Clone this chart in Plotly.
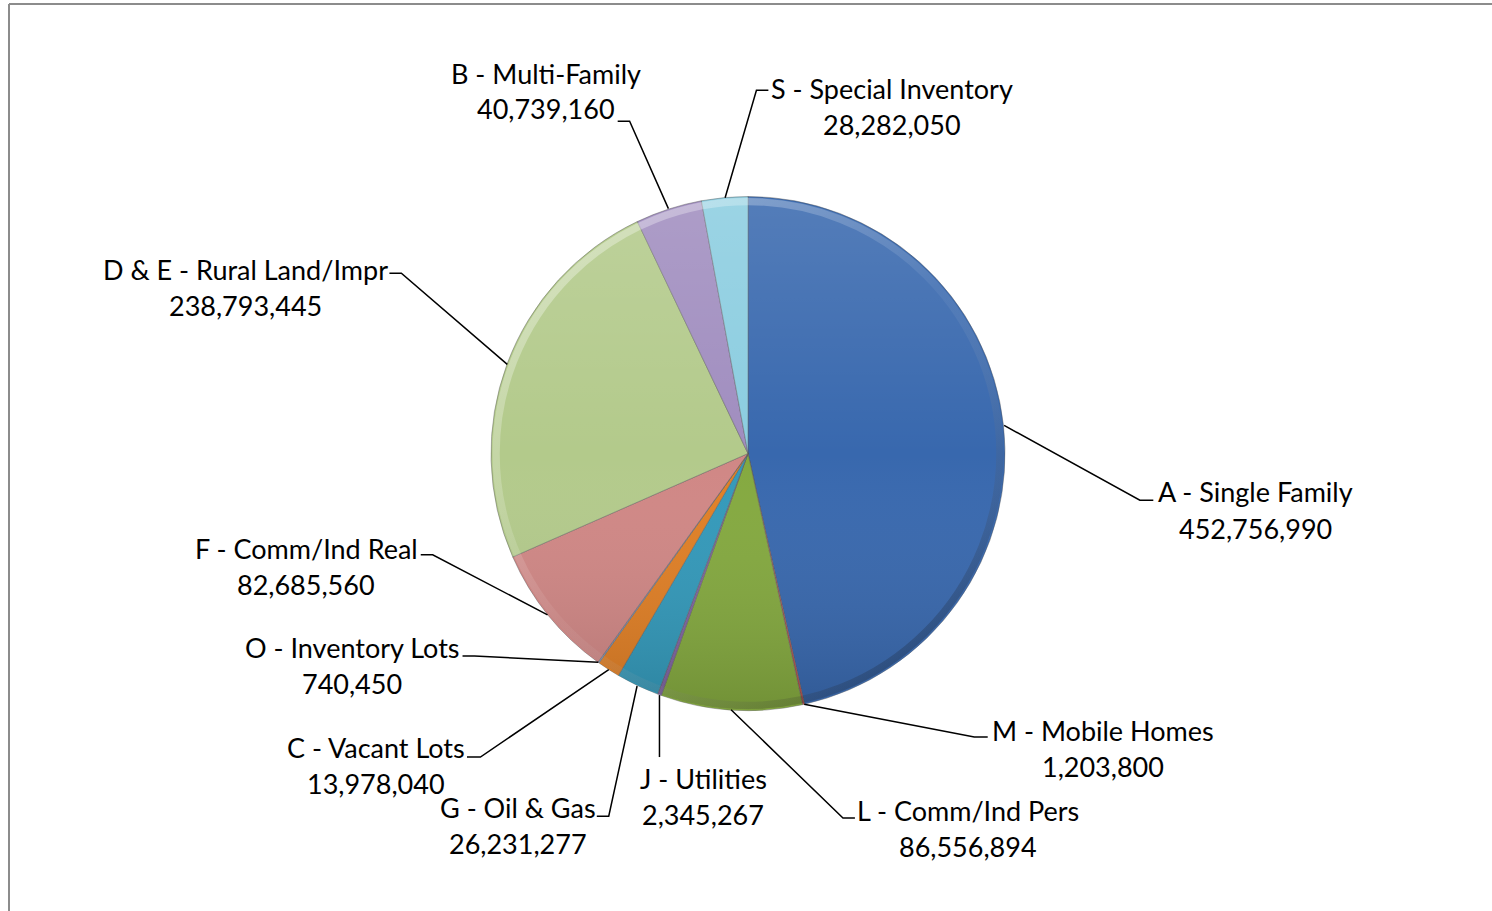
import math
import base64
import plotly.graph_objects as go

# ---------------- data ----------------
categories = [
    "A - Single Family", "M - Mobile Homes", "L - Comm/Ind Pers", "J - Utilities",
    "G - Oil & Gas", "C - Vacant Lots", "O - Inventory Lots", "F - Comm/Ind Real",
    "D & E - Rural Land/Impr", "B - Multi-Family", "S - Special Inventory",
]
values = [452756990, 1203800, 86556894, 2345267, 26231277, 13978040,
          740450, 82685560, 238793445, 40739160, 28282050]

# ---------------- style / layout ----------------
colors = ["#3868AE", "#C0504D", "#84A93F", "#8064A2", "#3399BA", "#E07F25",
          "#7F9FD4", "#D08785", "#B3CA8B", "#A08DBF", "#8BCDE0"]
W, H = 1492, 911
CX, CY, R = 748, 453.5, 257
FONT = "Lato"
FSIZE = 27
LINE_GAP = 36
# label block centre (x) and first-line middle (y), pixels
label_x = [1255, 1103, 968, 703, 518, 376, 352, 306, 245, 546, 892]
label_y = [492, 730, 810, 778, 807, 747, 647, 548, 269, 73, 88]
# leader line elbow and end points, pixels
elbows = [(1140, 500), (975, 737), (843, 818), (660, 757), (609, 816), (480, 757),
          (474, 656), (432, 555), (402, 273), (630, 121), (757, 90)]
ends = [(1153, 500), (988, 737), (855, 818), (660, 757), (597, 816), (467, 757),
        (462, 656), (420, 555), (390, 273), (618, 121), (768, 90)]


def px(x):
    return x / W


def py(y):
    return 1 - y / H


fig = go.Figure()
fig.add_trace(go.Pie(
    labels=categories,
    values=values,
    sort=False,
    direction="clockwise",
    rotation=0,
    marker=dict(colors=colors, line=dict(color="rgba(90,90,90,0.45)", width=1)),
    textinfo="none",
    hoverinfo="label+value",
    showlegend=False,
    domain=dict(x=[px(CX - R), px(CX + R)], y=[py(CY + R), py(CY - R)]),
))

# subtle shading overlay imitating the bevelled 3-D look of the original
svg = (
    '<svg xmlns="http://www.w3.org/2000/svg" viewBox="0 0 100 100">'
    '<defs>'
    '<linearGradient id="v" x1="0" y1="0" x2="0" y2="1">'
    '<stop offset="0" stop-color="#fff" stop-opacity="0.14"/>'
    '<stop offset="0.5" stop-color="#fff" stop-opacity="0"/>'
    '<stop offset="1" stop-color="#000" stop-opacity="0.14"/>'
    '</linearGradient>'
    '<linearGradient id="r" x1="0.15" y1="0.1" x2="0.85" y2="0.9">'
    '<stop offset="0" stop-color="#fff" stop-opacity="0.35"/>'
    '<stop offset="0.5" stop-color="#fff" stop-opacity="0.05"/>'
    '<stop offset="1" stop-color="#000" stop-opacity="0.22"/>'
    '</linearGradient>'
    '</defs>'
    '<circle cx="50" cy="50" r="49.8" fill="url(#v)"/>'
    '<circle cx="50" cy="50" r="49" fill="none" stroke="url(#r)" stroke-width="1.4"/>'
    '</svg>'
)
svg_uri = "data:image/svg+xml;base64," + base64.b64encode(svg.encode()).decode()

# leader anchors computed from the data (slice mid-angles)
total = float(sum(values))
cum = 0.0
shapes = []
annotations = []
for i, v in enumerate(values):
    mid = (cum + v / 2.0) / total * 2 * math.pi
    cum += v
    ax = CX + R * math.sin(mid)
    ay = CY - R * math.cos(mid)
    ex, ey = elbows[i]
    nx, ny = ends[i]
    path = "M {:.3f},{:.3f} L {:.3f},{:.3f} L {:.3f},{:.3f}".format(
        px(ax), py(ay), px(ex), py(ey), px(nx), py(ny))
    shapes.append(dict(type="path", xref="paper", yref="paper", path=path,
                       line=dict(color="black", width=1.5)))
    annotations.append(dict(
        x=px(label_x[i]), y=py(label_y[i]), xref="paper", yref="paper",
        text=categories[i], showarrow=False, xanchor="center", yanchor="middle",
        font=dict(family=FONT, size=FSIZE, color="black")))
    annotations.append(dict(
        x=px(label_x[i]), y=py(label_y[i] + LINE_GAP), xref="paper", yref="paper",
        text=f"{v:,}", showarrow=False, xanchor="center", yanchor="middle",
        font=dict(family=FONT, size=FSIZE, color="black")))

# chart-area border (top and left visible)
shapes.append(dict(type="line", xref="paper", yref="paper",
                   x0=px(9), y0=py(4), x1=px(W), y1=py(4),
                   line=dict(color="#8c8c8c", width=2)))
shapes.append(dict(type="line", xref="paper", yref="paper",
                   x0=px(9), y0=py(4), x1=px(9), y1=py(H),
                   line=dict(color="#8c8c8c", width=2)))

fig.update_layout(
    width=W, height=H,
    margin=dict(l=0, r=0, t=0, b=0),
    paper_bgcolor="white",
    plot_bgcolor="white",
    shapes=shapes,
    annotations=annotations,
    images=[dict(source=svg_uri, xref="paper", yref="paper",
                 x=px(CX - R), y=py(CY - R), sizex=2 * R / W, sizey=2 * R / H,
                 xanchor="left", yanchor="top", sizing="stretch", layer="above")],
)

fig.write_html(
    "out.html",
    config={"displayModeBar": False},
    post_script="document.body.style.margin='0';document.body.style.overflow='hidden';",
)
